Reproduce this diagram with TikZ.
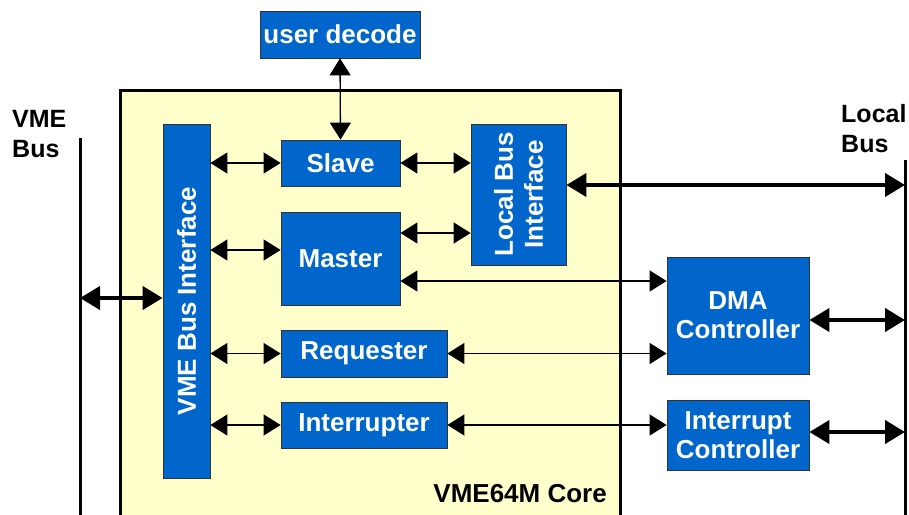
\documentclass[tikz,border=0pt]{standalone}
\usepackage{fontspec}
\setmainfont{Liberation Sans}
\usetikzlibrary{arrows.meta}
\definecolor{blk}{HTML}{0066CC}
\definecolor{corefill}{HTML}{FFFFCC}
\tikzset{
  blockbox/.style={draw=black!80, line width=0.8pt, fill=blk, text=white, font=\fontsize{26}{29}\selectfont\bfseries, align=center, inner sep=0pt},
  thinarr/.style={line width=1.3pt, {Triangle[length=17pt,width=21pt]}-{Triangle[length=17pt,width=21pt]}},
  thickarr/.style={line width=4pt, {Triangle[length=20pt,width=23pt]}-{Triangle[length=20pt,width=23pt]}},
  lbl/.style={font=\fontsize{25}{30}\selectfont\bfseries, align=left, inner sep=0pt}
}
\begin{document}
\begin{tikzpicture}[x=1pt,y=-1pt]
\useasboundingbox (0,0) rectangle (909,514);
\fill[white] (0,0) rectangle (909,514);
% core
\draw[fill=corefill, line width=3pt] (120,530) -- (120,90) -- (620,90) -- (620,530);
\node[anchor=south east, font=\fontsize{26}{29}\selectfont\bfseries, inner sep=0pt] (corelbl) at (607,503) {VME64M Core};
% bus lines
\coordinate (vmetop) at (80,138);
\coordinate (vmebot) at (80,520);
\coordinate (loctop) at (905,160);
\coordinate (locbot) at (905,520);
\draw[line width=3pt] (vmetop) -- (vmebot);
\draw[line width=3pt] (loctop) -- (locbot);
\node[lbl, anchor=north west] (vmelbl) at (12,110) {VME\\Bus};
\node[lbl, anchor=north west] (loclbl) at (841,104) {Local\\Bus};
% blocks
\node[blockbox, minimum width=47pt, minimum height=354pt] (vbi) at (186.5,301) {};
\node[white, font=\fontsize{26}{29}\selectfont\bfseries, rotate=90] at (vbi.center) {VME Bus Interface};
\node[blockbox, minimum width=95pt, minimum height=141pt] (lbi) at (518.5,194.5) {};
\node[white, font=\fontsize{26}{30}\selectfont\bfseries, rotate=90, align=center] at (lbi.center) {Local Bus\\Interface};
\node[blockbox, minimum width=119pt, minimum height=46pt] (slave) at (340.5,163) {Slave};
\node[blockbox, minimum width=119pt, minimum height=93pt] (master) at (340.5,258.5) {};
\node[white, font=\fontsize{26}{29}\selectfont\bfseries] at (340.5,259) {Master};
\node[blockbox, minimum width=166pt, minimum height=47pt] (req) at (364,353.5) {Requester};
\node[blockbox, minimum width=166pt, minimum height=46pt] (intr) at (364,425) {Interrupter};
\node[blockbox, minimum width=160pt, minimum height=47pt] (ud) at (340,34.5) {user decode};
\node[blockbox, minimum width=142pt, minimum height=117pt] (dma) at (738,315.5) {DMA\\Controller};
\node[blockbox, minimum width=142pt, minimum height=70pt] (ic) at (738,435) {Interrupt\\Controller};
% connectors
\draw[thinarr] (ud.south) -- (slave.north);
\draw[thinarr] (vbi.east |- slave.west) -- (slave.west);
\draw[thinarr] (slave.east) -- (lbi.west |- slave.east);
\draw[thinarr] (vbi.east |- 0,250) -- (master.west |- 0,250);
\draw[thinarr] (master.east |- 0,233) -- (lbi.west |- 0,233);
\draw[thinarr] (master.east |- 0,281) -- (dma.west |- 0,281);
\draw[thinarr] (vbi.east |- req.west) -- (req.west);
\draw[thinarr] (req.east) -- (dma.west |- req.east);
\draw[thinarr] (vbi.east |- intr.west) -- (intr.west);
\draw[thinarr] (intr.east) -- (ic.west |- intr.east);
\draw[thickarr] (vmetop |- 0,298) -- (vbi.west |- 0,298);
\draw[thickarr] (lbi.east |- 0,185) -- (loctop |- 0,185);
\draw[thickarr] (dma.east |- 0,320) -- (loctop |- 0,320);
\draw[thickarr] (ic.east |- 0,432) -- (loctop |- 0,432);
\end{tikzpicture}
\end{document}
